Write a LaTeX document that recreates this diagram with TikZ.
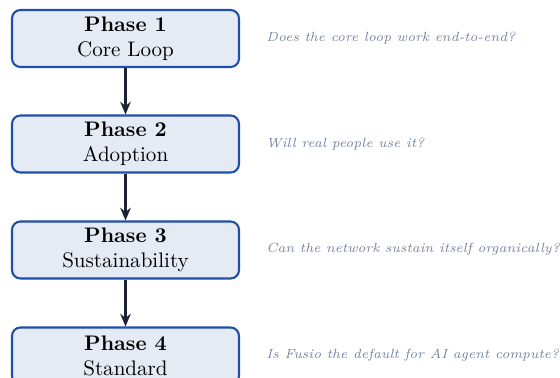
\documentclass[tikz,border=0pt]{standalone}
\usetikzlibrary{arrows.meta}
\definecolor{boxfill}{HTML}{E5EBF5}
\definecolor{boxdraw}{HTML}{1F4FA8}
\definecolor{arrowc}{HTML}{1C2233}
\definecolor{notec}{HTML}{7282A0}
\begin{document}
\begin{tikzpicture}[x=0.475pt,y=-0.475pt,
  phase/.style={draw=boxdraw, fill=boxfill, line width=1pt, rounded corners=4pt,
    minimum width=227*0.475pt, minimum height=57*0.475pt, align=center, inner sep=0pt},
  note/.style={anchor=west, text=notec, font=\fontsize{6.3}{7.5}\selectfont\itshape, inner sep=0pt},
  flow/.style={-{Stealth[length=6pt,width=5pt]}, draw=arrowc, line width=1pt}]
\useasboundingbox (0,0) rectangle (560,378);
\node[phase] (p1) at (125.5,38.5) {\textbf{Phase 1}\\Core Loop};
\node[phase] (p2) at (125.5,144) {\textbf{Phase 2}\\Adoption};
\node[phase] (p3) at (125.5,250) {\textbf{Phase 3}\\Sustainability};
\node[phase] (p4) at (125.5,356) {\textbf{Phase 4}\\Standard};
\draw[flow] (p1) -- (p2);
\draw[flow] (p2) -- (p3);
\draw[flow] (p3) -- (p4);
\node[note] (n1) at (266,38) {Does the core loop work end-to-end?};
\node[note] (n2) at (266,144) {Will real people use it?};
\node[note] (n3) at (266,249) {Can the network sustain itself organically?};
\node[note] (n4) at (266,355) {Is Fusio the default for AI agent compute?};
\end{tikzpicture}
\end{document}
